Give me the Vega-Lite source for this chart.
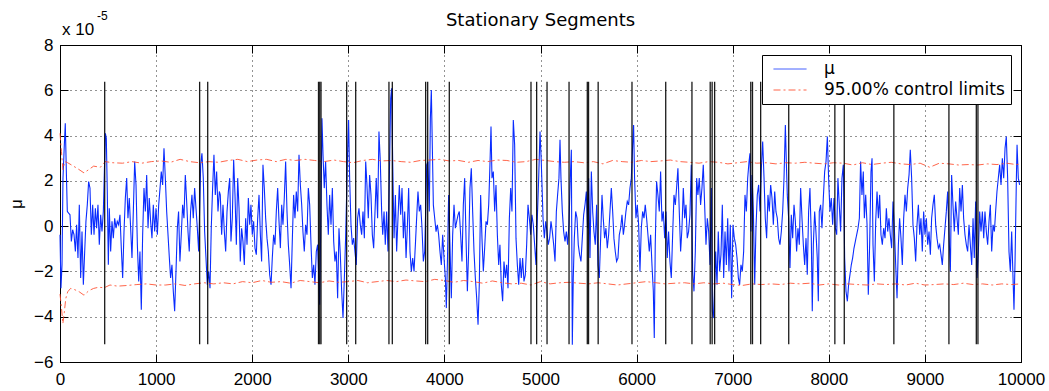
{
"$schema": "https://vega.github.io/schema/vega-lite/v6.json",
"autosize": {"type": "none"},
"width": 961,
"height": 317,
"padding": {"left": 60, "top": 45, "right": 28, "bottom": 29},
"background": "white",
"title": {"text": "Stationary Segments", "fontSize": 18, "fontWeight": "normal", "font": "DejaVu Sans", "offset": -20, "color": "black"},
"config": {
  "font": "Liberation Sans",
  "view": {"stroke": "black", "strokeWidth": 1},
  "axis": {"domainColor": "black", "tickColor": "black", "labelColor": "black", "labelFontSize": 17, "labelFont": "Liberation Sans", "gridColor": "black", "gridDash": [1, 4], "gridOpacity": 0.85, "tickSize": -8, "tickWidth": 1, "titleFontWeight": "normal", "titleColor": "black"},
  "legend": {"orient": "top-right", "offset": 10, "padding": 6, "symbolOffset": 5, "clipHeight": 16, "fillColor": "white", "strokeColor": "black", "labelFontSize": 17, "labelFont": "DejaVu Sans", "labelColor": "black", "labelLimit": 400, "symbolType": "stroke", "symbolSize": 1089, "symbolStrokeWidth": 1, "rowPadding": 4, "labelOffset": 17}
},
"datasets": {
"mu": [
{"x":0,"y":-0.38},{"x":10,"y":-2.74},{"x":21,"y":-1.7},{"x":31,"y":2.12},{"x":45,"y":3.59},{"x":55,"y":4.54},{"x":66,"y":2.41},{"x":76,"y":0.65},{"x":90,"y":0.57},{"x":104,"y":0.5},{"x":118,"y":-0.68},{"x":132,"y":-0.16},{"x":146,"y":-0.38},{"x":160,"y":-1.12},{"x":173,"y":0.06},{"x":187,"y":-1.41},{"x":201,"y":0.94},{"x":215,"y":-2.29},{"x":229,"y":-0.24},{"x":243,"y":-2.59},{"x":257,"y":-1.12},{"x":270,"y":0.21},{"x":284,"y":0.94},{"x":298,"y":1.97},{"x":312,"y":1.68},{"x":326,"y":-0.38},{"x":340,"y":0.94},{"x":354,"y":-0.38},{"x":368,"y":0.79},{"x":381,"y":-0.09},{"x":395,"y":0.94},{"x":409,"y":-0.82},{"x":423,"y":0.5},{"x":437,"y":-0.24},{"x":451,"y":0.65},{"x":472,"y":4.1},{"x":482,"y":3.88},{"x":492,"y":1.53},{"x":503,"y":-1.71},{"x":513,"y":0.79},{"x":527,"y":-1.12},{"x":541,"y":0.21},{"x":555,"y":-0.53},{"x":569,"y":0.35},{"x":583,"y":-0.09},{"x":596,"y":0.21},{"x":610,"y":0.06},{"x":624,"y":0.5},{"x":638,"y":-0.97},{"x":652,"y":-2.29},{"x":666,"y":-0.24},{"x":680,"y":1.24},{"x":694,"y":2.12},{"x":707,"y":0.35},{"x":721,"y":1.24},{"x":735,"y":-0.09},{"x":749,"y":-1.41},{"x":763,"y":0.65},{"x":777,"y":2.85},{"x":791,"y":1.82},{"x":805,"y":-0.82},{"x":819,"y":-2.44},{"x":832,"y":-1.12},{"x":846,"y":-3.69},{"x":860,"y":-0.38},{"x":874,"y":1.68},{"x":888,"y":0.65},{"x":902,"y":2.26},{"x":916,"y":-0.09},{"x":929,"y":1.24},{"x":943,"y":0.21},{"x":957,"y":-0.53},{"x":971,"y":0.94},{"x":985,"y":-0.24},{"x":999,"y":0.79},{"x":1013,"y":-0.38},{"x":1027,"y":0.94},{"x":1041,"y":1.68},{"x":1054,"y":2.41},{"x":1068,"y":1.82},{"x":1082,"y":3.44},{"x":1096,"y":2.12},{"x":1110,"y":0.65},{"x":1124,"y":-0.38},{"x":1138,"y":-1.41},{"x":1151,"y":-2.29},{"x":1165,"y":-1.71},{"x":1179,"y":-2.88},{"x":1193,"y":-3.76},{"x":1207,"y":-2.0},{"x":1221,"y":-0.09},{"x":1234,"y":0.65},{"x":1248,"y":-1.56},{"x":1262,"y":-0.38},{"x":1276,"y":0.94},{"x":1290,"y":0.35},{"x":1304,"y":2.26},{"x":1318,"y":1.09},{"x":1332,"y":-0.24},{"x":1345,"y":-1.12},{"x":1359,"y":0.65},{"x":1373,"y":1.38},{"x":1387,"y":0.35},{"x":1401,"y":1.68},{"x":1415,"y":0.79},{"x":1429,"y":-0.09},{"x":1443,"y":-1.12},{"x":1464,"y":2.71},{"x":1477,"y":3.22},{"x":1491,"y":2.12},{"x":1505,"y":-0.24},{"x":1519,"y":-1.41},{"x":1533,"y":-2.59},{"x":1547,"y":-2.0},{"x":1561,"y":-2.74},{"x":1574,"y":-0.09},{"x":1588,"y":1.68},{"x":1602,"y":3.15},{"x":1616,"y":1.38},{"x":1630,"y":2.41},{"x":1644,"y":0.65},{"x":1658,"y":1.53},
{"x":1668,"y":1.38},{"x":1682,"y":-0.38},{"x":1696,"y":0.94},{"x":1710,"y":-0.24},{"x":1724,"y":-1.12},{"x":1738,"y":0.65},{"x":1752,"y":1.53},{"x":1766,"y":2.12},{"x":1779,"y":-0.68},{"x":1793,"y":0.35},{"x":1807,"y":2.93},{"x":1821,"y":1.38},{"x":1835,"y":-0.82},{"x":1849,"y":2.12},{"x":1863,"y":0.79},{"x":1876,"y":-1.56},{"x":1890,"y":-0.09},{"x":1904,"y":-0.68},{"x":1918,"y":-1.71},{"x":1932,"y":0.35},{"x":1946,"y":-0.82},{"x":1960,"y":1.24},{"x":1974,"y":0.06},{"x":1987,"y":0.94},{"x":2001,"y":-0.38},{"x":2015,"y":0.21},{"x":2029,"y":-0.97},{"x":2043,"y":-1.26},{"x":2057,"y":0.35},{"x":2071,"y":1.38},{"x":2085,"y":-0.38},{"x":2098,"y":-1.56},{"x":2112,"y":2.71},{"x":2126,"y":1.68},{"x":2140,"y":0.35},{"x":2154,"y":-0.53},{"x":2168,"y":-1.12},{"x":2182,"y":-2.15},{"x":2196,"y":-2.59},{"x":2209,"y":-1.41},{"x":2223,"y":-0.38},{"x":2237,"y":-0.82},{"x":2251,"y":0.65},{"x":2265,"y":1.68},{"x":2279,"y":0.21},{"x":2293,"y":-0.97},{"x":2307,"y":0.94},{"x":2320,"y":0.06},{"x":2334,"y":1.24},{"x":2348,"y":2.85},{"x":2362,"y":0.65},{"x":2376,"y":-0.82},{"x":2390,"y":-1.71},{"x":2404,"y":-2.74},{"x":2418,"y":-0.53},{"x":2431,"y":1.38},{"x":2445,"y":0.35},{"x":2459,"y":1.53},{"x":2473,"y":0.65},{"x":2487,"y":3.15},{"x":2501,"y":1.82},{"x":2515,"y":0.94},{"x":2528,"y":-0.24},{"x":2542,"y":-1.12},{"x":2556,"y":0.06},{"x":2570,"y":-0.38},{"x":2584,"y":1.68},{"x":2598,"y":0.94},{"x":2612,"y":-0.82},{"x":2626,"y":-2.29},{"x":2640,"y":-1.71},{"x":2653,"y":-2.59},{"x":2667,"y":-1.12},{"x":2681,"y":-0.82},{"x":2702,"y":-3.47},{"x":2716,"y":0.94},{"x":2726,"y":4.76},{"x":2737,"y":3.15},{"x":2750,"y":1.68},{"x":2764,"y":2.85},{"x":2778,"y":0.94},{"x":2792,"y":-0.38},{"x":2806,"y":1.38},{"x":2820,"y":0.06},{"x":2834,"y":1.68},{"x":2848,"y":-0.68},{"x":2861,"y":-1.56},{"x":2875,"y":-1.12},{"x":2889,"y":-3.18},{"x":2903,"y":-0.09},{"x":2917,"y":-1.26},{"x":2931,"y":-2.88},{"x":2945,"y":-4.06},{"x":2959,"y":-2.29},{"x":2972,"y":-0.53},{"x":2993,"y":3.29},{"x":3003,"y":4.69},{"x":3014,"y":2.12},{"x":3028,"y":0.06},{"x":3042,"y":-0.82},{"x":3056,"y":-0.53},{"x":3069,"y":-1.12},{"x":3083,"y":-1.71},{"x":3097,"y":0.35},{"x":3111,"y":0.79},{"x":3125,"y":0.06},{"x":3139,"y":-0.38},{"x":3153,"y":0.65},{"x":3167,"y":-0.53},{"x":3181,"y":2.85},{"x":3194,"y":1.82},{"x":3208,"y":0.35},{"x":3222,"y":2.26},{"x":3236,"y":1.38},{"x":3250,"y":-0.38},{"x":3264,"y":-0.97},{"x":3278,"y":0.65},{"x":3291,"y":2.12},{"x":3305,"y":0.35},{"x":3319,"y":4.18},{"x":3333,"y":2.85},{"x":3347,"y":0.65},
{"x":3358,"y":-0.38},{"x":3372,"y":0.65},{"x":3385,"y":-0.82},{"x":3399,"y":0.65},{"x":3413,"y":-1.12},{"x":3427,"y":2.12},{"x":3441,"y":5.65},{"x":3451,"y":6.09},{"x":3462,"y":2.85},{"x":3476,"y":-0.53},{"x":3490,"y":1.38},{"x":3503,"y":-1.12},{"x":3517,"y":0.35},{"x":3531,"y":1.82},{"x":3545,"y":0.5},{"x":3559,"y":1.68},{"x":3573,"y":-0.53},{"x":3587,"y":0.65},{"x":3601,"y":-1.41},{"x":3614,"y":-0.09},{"x":3628,"y":1.68},{"x":3642,"y":-1.12},{"x":3656,"y":-2.0},{"x":3670,"y":-1.41},{"x":3684,"y":-2.0},{"x":3698,"y":-0.82},{"x":3711,"y":0.35},{"x":3725,"y":1.53},{"x":3739,"y":0.65},{"x":3753,"y":0.94},{"x":3767,"y":-0.09},{"x":3781,"y":-1.56},{"x":3795,"y":-1.12},{"x":3816,"y":2.71},{"x":3829,"y":2.85},{"x":3843,"y":0.65},{"x":3854,"y":4.76},{"x":3864,"y":6.01},{"x":3874,"y":3.59},{"x":3885,"y":0.94},{"x":3899,"y":0.35},{"x":3913,"y":-0.24},{"x":3927,"y":0.06},{"x":3940,"y":-0.38},{"x":3954,"y":-1.12},{"x":3968,"y":-1.71},{"x":3982,"y":-0.38},{"x":3996,"y":-1.41},{"x":4010,"y":-2.29},{"x":4020,"y":-3.62},{"x":4031,"y":-1.71},{"x":4044,"y":1.38},{"x":4058,"y":-0.82},{"x":4072,"y":-3.18},{"x":4086,"y":-0.38},{"x":4100,"y":0.94},{"x":4114,"y":-0.09},{"x":4128,"y":0.21},{"x":4142,"y":0.5},{"x":4155,"y":0.65},{"x":4169,"y":-0.38},{"x":4183,"y":-1.56},{"x":4197,"y":0.94},{"x":4211,"y":2.12},{"x":4225,"y":-0.53},{"x":4239,"y":-2.88},{"x":4252,"y":-1.12},{"x":4266,"y":1.68},{"x":4280,"y":2.56},{"x":4294,"y":0.65},{"x":4308,"y":-1.12},{"x":4322,"y":-2.29},{"x":4336,"y":-3.18},{"x":4350,"y":-4.35},{"x":4363,"y":-2.59},{"x":4377,"y":1.38},{"x":4391,"y":-0.53},{"x":4405,"y":-2.0},{"x":4419,"y":-0.97},{"x":4433,"y":0.21},{"x":4447,"y":0.06},{"x":4461,"y":0.94},{"x":4474,"y":2.71},{"x":4485,"y":4.4},{"x":4495,"y":2.12},{"x":4509,"y":2.41},{"x":4523,"y":0.65},{"x":4537,"y":1.82},{"x":4551,"y":-0.38},{"x":4565,"y":-1.71},{"x":4578,"y":-0.82},{"x":4592,"y":-2.59},{"x":4606,"y":-3.32},{"x":4620,"y":-1.56},{"x":4634,"y":-2.29},{"x":4648,"y":-1.71},{"x":4662,"y":-2.74},{"x":4676,"y":0.35},{"x":4690,"y":1.68},{"x":4703,"y":0.65},{"x":4717,"y":4.69},{"x":4731,"y":3.59},{"x":4745,"y":-0.53},{"x":4759,"y":-1.71},{"x":4773,"y":-2.59},{"x":4787,"y":-1.41},{"x":4800,"y":-2.29},{"x":4814,"y":-1.41},{"x":4828,"y":-2.44},{"x":4842,"y":-2.15},{"x":4856,"y":-0.82},{"x":4870,"y":0.94},{"x":4884,"y":0.35},{"x":4898,"y":-0.38},{"x":4911,"y":0.5},{"x":4925,"y":0.06},{"x":4939,"y":-0.82},{"x":4953,"y":-1.71},{"x":4967,"y":0.35},{"x":4981,"y":2.12},{"x":4995,"y":4.18},{"x":5008,"y":2.85},{"x":5022,"y":0.94},
{"x":5026,"y":0.35},{"x":5040,"y":-0.53},{"x":5054,"y":0.21},{"x":5067,"y":-0.24},{"x":5081,"y":-0.82},{"x":5095,"y":-0.53},{"x":5109,"y":0.21},{"x":5123,"y":-0.24},{"x":5137,"y":-0.82},{"x":5151,"y":-1.56},{"x":5165,"y":0.65},{"x":5178,"y":1.38},{"x":5192,"y":2.12},{"x":5203,"y":3.81},{"x":5213,"y":2.12},{"x":5227,"y":0.65},{"x":5241,"y":-0.24},{"x":5255,"y":-0.68},{"x":5269,"y":-0.24},{"x":5282,"y":-0.82},{"x":5296,"y":0.06},{"x":5310,"y":2.12},{"x":5321,"y":3.37},{"x":5331,"y":-5.24},{"x":5341,"y":-2.29},{"x":5352,"y":-0.53},{"x":5366,"y":0.65},{"x":5380,"y":0.35},{"x":5393,"y":-0.82},{"x":5407,"y":-1.26},{"x":5421,"y":-1.56},{"x":5435,"y":-0.53},{"x":5449,"y":0.5},{"x":5463,"y":0.94},{"x":5477,"y":1.53},{"x":5490,"y":-0.09},{"x":5501,"y":2.12},{"x":5515,"y":-1.41},{"x":5529,"y":2.41},{"x":5543,"y":0.65},{"x":5556,"y":-0.24},{"x":5570,"y":-0.82},{"x":5584,"y":0.94},{"x":5598,"y":-1.71},{"x":5612,"y":-2.29},{"x":5626,"y":-0.53},{"x":5640,"y":1.38},{"x":5653,"y":0.35},{"x":5667,"y":-0.53},{"x":5681,"y":-0.09},{"x":5695,"y":-0.97},{"x":5709,"y":-0.38},{"x":5723,"y":0.65},{"x":5737,"y":1.68},{"x":5751,"y":0.65},{"x":5764,"y":-0.53},{"x":5778,"y":-1.12},{"x":5792,"y":-1.56},{"x":5806,"y":-1.41},{"x":5820,"y":-0.38},{"x":5834,"y":-0.09},{"x":5848,"y":0.5},{"x":5862,"y":-0.38},{"x":5875,"y":0.06},{"x":5889,"y":0.65},{"x":5903,"y":1.09},{"x":5917,"y":0.94},{"x":5931,"y":1.68},{"x":5945,"y":2.12},{"x":5959,"y":3.59},{"x":5969,"y":4.47},{"x":5979,"y":2.12},{"x":5993,"y":0.35},{"x":6007,"y":0.94},{"x":6021,"y":0.06},{"x":6035,"y":-2.0},{"x":6049,"y":-0.09},{"x":6063,"y":0.65},{"x":6077,"y":0.35},{"x":6090,"y":0.94},{"x":6104,"y":0.35},{"x":6118,"y":-0.38},{"x":6132,"y":-1.12},{"x":6146,"y":-0.38},{"x":6160,"y":-1.71},{"x":6174,"y":-2.88},{"x":6184,"y":-4.94},{"x":6194,"y":-0.82},{"x":6208,"y":1.97},{"x":6222,"y":1.38},{"x":6236,"y":0.65},{"x":6250,"y":2.41},{"x":6264,"y":0.21},{"x":6278,"y":0.65},{"x":6292,"y":-0.53},{"x":6306,"y":0.65},{"x":6319,"y":-1.41},{"x":6333,"y":-0.24},{"x":6347,"y":-1.56},{"x":6361,"y":-2.29},{"x":6375,"y":-0.38},{"x":6389,"y":1.38},{"x":6403,"y":0.94},{"x":6416,"y":1.68},{"x":6430,"y":2.56},{"x":6444,"y":0.65},{"x":6458,"y":-1.12},{"x":6472,"y":-0.09},{"x":6486,"y":1.68},{"x":6500,"y":0.35},{"x":6514,"y":0.94},{"x":6527,"y":-0.53},{"x":6541,"y":-0.24},{"x":6555,"y":0.5},{"x":6569,"y":2.71},{"x":6583,"y":-2.0},{"x":6597,"y":-2.88},{"x":6611,"y":-1.12},{"x":6625,"y":2.12},{"x":6638,"y":1.38},{"x":6652,"y":2.12},{"x":6666,"y":0.94},{"x":6680,"y":1.68},
{"x":6694,"y":2.71},{"x":6708,"y":0.94},{"x":6722,"y":-0.82},{"x":6736,"y":0.35},{"x":6750,"y":-0.24},{"x":6764,"y":-1.71},{"x":6778,"y":1.68},{"x":6788,"y":-3.76},{"x":6798,"y":-4.06},{"x":6809,"y":-3.03},{"x":6823,"y":-1.12},{"x":6837,"y":-2.59},{"x":6850,"y":-0.24},{"x":6864,"y":-2.0},{"x":6878,"y":-1.26},{"x":6892,"y":0.94},{"x":6906,"y":-2.29},{"x":6920,"y":-0.24},{"x":6934,"y":-1.71},{"x":6948,"y":0.35},{"x":6961,"y":-2.0},{"x":6975,"y":0.06},{"x":6989,"y":-3.18},{"x":7003,"y":0.06},{"x":7017,"y":-0.53},{"x":7031,"y":-0.82},{"x":7045,"y":-1.41},{"x":7059,"y":-2.29},{"x":7072,"y":-2.59},{"x":7086,"y":-1.71},{"x":7100,"y":-2.0},{"x":7114,"y":-1.12},{"x":7128,"y":1.38},{"x":7142,"y":0.65},{"x":7156,"y":2.12},{"x":7170,"y":2.85},{"x":7180,"y":3.22},{"x":7190,"y":-0.24},{"x":7201,"y":2.26},{"x":7215,"y":0.65},{"x":7229,"y":-2.59},{"x":7242,"y":-0.09},{"x":7256,"y":1.38},{"x":7270,"y":1.82},{"x":7284,"y":0.65},{"x":7298,"y":2.56},{"x":7312,"y":3.74},{"x":7326,"y":2.12},{"x":7339,"y":0.35},{"x":7353,"y":-0.53},{"x":7367,"y":1.38},{"x":7381,"y":0.65},{"x":7395,"y":1.82},{"x":7409,"y":1.24},{"x":7423,"y":0.06},{"x":7437,"y":1.53},{"x":7450,"y":0.65},{"x":7464,"y":0.35},{"x":7478,"y":-0.53},{"x":7492,"y":-0.82},{"x":7506,"y":-0.24},{"x":7520,"y":0.65},{"x":7534,"y":2.12},{"x":7548,"y":4.47},{"x":7558,"y":2.85},{"x":7568,"y":1.38},{"x":7582,"y":0.35},{"x":7596,"y":-1.85},{"x":7610,"y":0.5},{"x":7624,"y":-0.53},{"x":7638,"y":0.94},{"x":7652,"y":0.21},{"x":7665,"y":-1.12},{"x":7679,"y":-0.09},{"x":7693,"y":-0.82},{"x":7707,"y":1.68},{"x":7721,"y":0.35},{"x":7735,"y":-0.82},{"x":7749,"y":-1.71},{"x":7763,"y":-0.53},{"x":7776,"y":-2.15},{"x":7790,"y":0.65},{"x":7804,"y":1.68},{"x":7818,"y":-0.53},{"x":7828,"y":-3.76},{"x":7839,"y":-0.82},{"x":7853,"y":0.65},{"x":7866,"y":-0.24},{"x":7880,"y":-1.41},{"x":7891,"y":-3.32},{"x":7901,"y":0.65},{"x":7915,"y":0.94},{"x":7929,"y":-0.09},{"x":7943,"y":1.24},{"x":7957,"y":2.41},{"x":7971,"y":2.85},{"x":7985,"y":3.96},{"x":7998,"y":2.12},{"x":8012,"y":0.65},{"x":8026,"y":1.24},{"x":8040,"y":0.06},{"x":8054,"y":1.24},{"x":8068,"y":-0.09},{"x":8082,"y":-0.38},{"x":8095,"y":2.12},{"x":8109,"y":0.94},{"x":8123,"y":-0.24},{"x":8137,"y":2.12},{"x":8151,"y":2.71},{"x":8165,"y":-1.41},{"x":8179,"y":-2.88},{"x":8193,"y":-3.32},{"x":8206,"y":-2.59},{"x":8220,"y":-2.15},{"x":8234,"y":-1.71},{"x":8248,"y":-1.41},{"x":8262,"y":-0.97},{"x":8276,"y":-0.68},{"x":8290,"y":-0.38},{"x":8304,"y":-0.09},{"x":8318,"y":0.35},{"x":8331,"y":2.85},{"x":8345,"y":1.38},{"x":8359,"y":2.41},
{"x":8370,"y":0.35},{"x":8384,"y":1.38},{"x":8398,"y":0.06},{"x":8411,"y":-3.03},{"x":8425,"y":-0.82},{"x":8439,"y":2.41},{"x":8450,"y":3.0},{"x":8460,"y":-0.82},{"x":8474,"y":-2.44},{"x":8488,"y":0.21},{"x":8502,"y":1.53},{"x":8516,"y":0.35},{"x":8529,"y":1.38},{"x":8543,"y":-0.38},{"x":8557,"y":-0.82},{"x":8571,"y":-0.09},{"x":8585,"y":-0.53},{"x":8599,"y":0.79},{"x":8613,"y":-0.24},{"x":8626,"y":0.35},{"x":8640,"y":-0.38},{"x":8654,"y":-0.97},{"x":8668,"y":1.09},{"x":8682,"y":-0.09},{"x":8696,"y":-1.71},{"x":8710,"y":-3.18},{"x":8724,"y":-0.82},{"x":8737,"y":0.35},{"x":8751,"y":-0.53},{"x":8765,"y":-1.71},{"x":8779,"y":0.35},{"x":8793,"y":1.38},{"x":8807,"y":0.65},{"x":8821,"y":1.68},{"x":8835,"y":2.26},{"x":8848,"y":3.37},{"x":8862,"y":2.12},{"x":8876,"y":0.06},{"x":8890,"y":-0.53},{"x":8904,"y":-1.56},{"x":8918,"y":0.06},{"x":8932,"y":0.94},{"x":8946,"y":-0.38},{"x":8959,"y":0.35},{"x":8973,"y":-1.12},{"x":8987,"y":0.65},{"x":9001,"y":-0.38},{"x":9015,"y":0.35},{"x":9029,"y":-0.82},{"x":9043,"y":-0.24},{"x":9057,"y":-1.26},{"x":9070,"y":0.35},{"x":9084,"y":0.94},{"x":9098,"y":1.38},{"x":9112,"y":0.06},{"x":9126,"y":-0.53},{"x":9140,"y":-0.97},{"x":9154,"y":-0.82},{"x":9168,"y":-1.26},{"x":9181,"y":-1.71},{"x":9195,"y":-0.82},{"x":9209,"y":-0.09},{"x":9223,"y":0.65},{"x":9237,"y":1.53},{"x":9251,"y":-0.38},{"x":9265,"y":-2.0},{"x":9278,"y":2.26},{"x":9292,"y":0.94},{"x":9306,"y":-0.24},{"x":9320,"y":1.09},{"x":9334,"y":0.35},{"x":9348,"y":-0.38},{"x":9362,"y":1.68},{"x":9376,"y":0.65},{"x":9390,"y":1.82},{"x":9403,"y":0.35},{"x":9417,"y":-0.38},{"x":9431,"y":-0.82},{"x":9445,"y":-1.12},{"x":9459,"y":0.06},{"x":9473,"y":-0.82},{"x":9487,"y":-1.71},{"x":9501,"y":0.35},{"x":9514,"y":-1.41},{"x":9528,"y":1.09},{"x":9542,"y":-2.29},{"x":9556,"y":-1.12},{"x":9570,"y":0.65},{"x":9584,"y":-0.24},{"x":9598,"y":0.65},{"x":9612,"y":-0.53},{"x":9625,"y":0.65},{"x":9639,"y":-0.24},{"x":9653,"y":-0.82},{"x":9667,"y":0.21},{"x":9681,"y":0.94},{"x":9695,"y":-1.12},{"x":9709,"y":0.06},{"x":9723,"y":-0.24},{"x":9736,"y":0.65},{"x":9750,"y":1.53},{"x":9764,"y":2.12},{"x":9778,"y":2.71},{"x":9792,"y":1.82},{"x":9806,"y":3.0},{"x":9820,"y":2.12},{"x":9834,"y":3.44},{"x":9847,"y":3.96},{"x":9861,"y":2.12},{"x":9875,"y":-1.12},{"x":9889,"y":-2.0},{"x":9903,"y":-0.24},{"x":9917,"y":-2.29},{"x":9927,"y":-3.69},{"x":9938,"y":-1.56},{"x":9952,"y":2.12},{"x":9959,"y":3.59},{"x":9972,"y":2.12},{"x":9986,"y":1.82}
],
"limits": [
{"x":0,"y":4.1,"band":"upper"},{"x":15,"y":3.3,"band":"upper"},{"x":30,"y":2.5,"band":"upper"},{"x":50,"y":2.85,"band":"upper"},{"x":80,"y":2.8,"band":"upper"},{"x":120,"y":2.7,"band":"upper"},{"x":180,"y":2.55,"band":"upper"},{"x":250,"y":2.35,"band":"upper"},{"x":300,"y":2.5,"band":"upper"},{"x":350,"y":2.65,"band":"upper"},{"x":420,"y":2.6,"band":"upper"},{"x":470,"y":2.85,"band":"upper"},{"x":550,"y":2.8,"band":"upper"},{"x":650,"y":2.78,"band":"upper"},{"x":750,"y":2.85,"band":"upper"},{"x":850,"y":2.78,"band":"upper"},{"x":950,"y":2.85,"band":"upper"},{"x":1050,"y":2.88,"band":"upper"},{"x":1150,"y":2.82,"band":"upper"},{"x":1250,"y":2.95,"band":"upper"},{"x":1350,"y":2.85,"band":"upper"},{"x":1450,"y":2.8,"band":"upper"},{"x":1550,"y":2.85,"band":"upper"},{"x":1650,"y":2.82,"band":"upper"},{"x":1750,"y":2.9,"band":"upper"},{"x":1850,"y":2.95,"band":"upper"},{"x":1950,"y":2.85,"band":"upper"},{"x":2050,"y":2.92,"band":"upper"},{"x":2150,"y":2.95,"band":"upper"},{"x":2250,"y":2.85,"band":"upper"},{"x":2350,"y":2.95,"band":"upper"},{"x":2450,"y":2.9,"band":"upper"},{"x":2550,"y":2.95,"band":"upper"},{"x":2650,"y":2.9,"band":"upper"},{"x":2750,"y":2.85,"band":"upper"},{"x":2850,"y":2.92,"band":"upper"},{"x":2950,"y":2.85,"band":"upper"},{"x":3050,"y":2.8,"band":"upper"},{"x":3150,"y":2.9,"band":"upper"},{"x":3250,"y":2.95,"band":"upper"},{"x":3350,"y":2.88,"band":"upper"},{"x":3450,"y":2.9,"band":"upper"},{"x":3550,"y":2.85,"band":"upper"},{"x":3650,"y":2.82,"band":"upper"},{"x":3750,"y":2.9,"band":"upper"},{"x":3850,"y":2.92,"band":"upper"},{"x":3950,"y":2.95,"band":"upper"},{"x":4050,"y":2.88,"band":"upper"},{"x":4150,"y":2.9,"band":"upper"},{"x":4250,"y":2.82,"band":"upper"},{"x":4350,"y":2.9,"band":"upper"},{"x":4450,"y":2.85,"band":"upper"},{"x":4550,"y":2.92,"band":"upper"},{"x":4650,"y":2.9,"band":"upper"},{"x":4750,"y":2.82,"band":"upper"},{"x":4850,"y":2.85,"band":"upper"},{"x":4950,"y":2.95,"band":"upper"},{"x":5050,"y":2.9,"band":"upper"},{"x":5150,"y":2.85,"band":"upper"},{"x":5250,"y":2.82,"band":"upper"},{"x":5350,"y":2.85,"band":"upper"},{"x":5450,"y":2.8,"band":"upper"},{"x":5550,"y":2.85,"band":"upper"},{"x":5650,"y":2.75,"band":"upper"},{"x":5750,"y":2.9,"band":"upper"},{"x":5850,"y":2.85,"band":"upper"},{"x":5950,"y":2.82,"band":"upper"},{"x":6050,"y":2.9,"band":"upper"},{"x":6150,"y":2.85,"band":"upper"},{"x":6250,"y":2.88,"band":"upper"},{"x":6350,"y":2.92,"band":"upper"},{"x":6450,"y":2.85,"band":"upper"},{"x":6550,"y":2.82,"band":"upper"},{"x":6650,"y":2.78,"band":"upper"},{"x":6750,"y":2.85,"band":"upper"},{"x":6850,"y":2.82,"band":"upper"},{"x":6950,"y":2.75,"band":"upper"},{"x":7050,"y":2.8,"band":"upper"},{"x":7150,"y":2.85,"band":"upper"},{"x":7250,"y":2.78,"band":"upper"},{"x":7350,"y":2.8,"band":"upper"},{"x":7450,"y":2.75,"band":"upper"},{"x":7550,"y":2.8,"band":"upper"},{"x":7650,"y":2.78,"band":"upper"},{"x":7750,"y":2.82,"band":"upper"},{"x":7850,"y":2.78,"band":"upper"},{"x":7950,"y":2.75,"band":"upper"},{"x":8050,"y":2.8,"band":"upper"},{"x":8150,"y":2.78,"band":"upper"},{"x":8250,"y":2.7,"band":"upper"},{"x":8350,"y":2.8,"band":"upper"},{"x":8450,"y":2.72,"band":"upper"},{"x":8550,"y":2.78,"band":"upper"},{"x":8650,"y":2.82,"band":"upper"},{"x":8750,"y":2.75,"band":"upper"},{"x":8850,"y":2.72,"band":"upper"},{"x":8950,"y":2.78,"band":"upper"},{"x":9050,"y":2.6,"band":"upper"},{"x":9150,"y":2.78,"band":"upper"},{"x":9250,"y":2.75,"band":"upper"},{"x":9350,"y":2.7,"band":"upper"},{"x":9450,"y":2.72,"band":"upper"},{"x":9550,"y":2.7,"band":"upper"},{"x":9650,"y":2.75,"band":"upper"},{"x":9750,"y":2.72,"band":"upper"},{"x":9850,"y":2.78,"band":"upper"},{"x":9950,"y":2.72,"band":"upper"},{"x":10000,"y":2.75,"band":"upper"},
{"x":0,"y":-3.0,"band":"lower"},{"x":15,"y":-3.6,"band":"lower"},{"x":30,"y":-4.3,"band":"lower"},{"x":45,"y":-3.8,"band":"lower"},{"x":60,"y":-3.2,"band":"lower"},{"x":80,"y":-2.9,"band":"lower"},{"x":110,"y":-2.75,"band":"lower"},{"x":150,"y":-2.8,"band":"lower"},{"x":200,"y":-2.9,"band":"lower"},{"x":250,"y":-3.05,"band":"lower"},{"x":300,"y":-2.85,"band":"lower"},{"x":350,"y":-2.75,"band":"lower"},{"x":400,"y":-2.7,"band":"lower"},{"x":460,"y":-2.72,"band":"lower"},{"x":520,"y":-2.6,"band":"lower"},{"x":600,"y":-2.65,"band":"lower"},{"x":700,"y":-2.62,"band":"lower"},{"x":800,"y":-2.58,"band":"lower"},{"x":900,"y":-2.55,"band":"lower"},{"x":1000,"y":-2.6,"band":"lower"},{"x":1100,"y":-2.6,"band":"lower"},{"x":1200,"y":-2.55,"band":"lower"},{"x":1300,"y":-2.62,"band":"lower"},{"x":1400,"y":-2.55,"band":"lower"},{"x":1500,"y":-2.5,"band":"lower"},{"x":1600,"y":-2.55,"band":"lower"},{"x":1700,"y":-2.5,"band":"lower"},{"x":1800,"y":-2.55,"band":"lower"},{"x":1900,"y":-2.45,"band":"lower"},{"x":2000,"y":-2.5,"band":"lower"},{"x":2100,"y":-2.4,"band":"lower"},{"x":2200,"y":-2.48,"band":"lower"},{"x":2300,"y":-2.45,"band":"lower"},{"x":2400,"y":-2.52,"band":"lower"},{"x":2500,"y":-2.4,"band":"lower"},{"x":2600,"y":-2.45,"band":"lower"},{"x":2700,"y":-2.5,"band":"lower"},{"x":2800,"y":-2.42,"band":"lower"},{"x":2900,"y":-2.48,"band":"lower"},{"x":3000,"y":-2.45,"band":"lower"},{"x":3100,"y":-2.4,"band":"lower"},{"x":3200,"y":-2.5,"band":"lower"},{"x":3300,"y":-2.45,"band":"lower"},{"x":3400,"y":-2.4,"band":"lower"},{"x":3500,"y":-2.45,"band":"lower"},{"x":3600,"y":-2.38,"band":"lower"},{"x":3700,"y":-2.42,"band":"lower"},{"x":3800,"y":-2.45,"band":"lower"},{"x":3900,"y":-2.35,"band":"lower"},{"x":4000,"y":-2.4,"band":"lower"},{"x":4100,"y":-2.48,"band":"lower"},{"x":4200,"y":-2.4,"band":"lower"},{"x":4300,"y":-2.45,"band":"lower"},{"x":4400,"y":-2.52,"band":"lower"},{"x":4500,"y":-2.42,"band":"lower"},{"x":4600,"y":-2.5,"band":"lower"},{"x":4700,"y":-2.55,"band":"lower"},{"x":4800,"y":-2.52,"band":"lower"},{"x":4900,"y":-2.6,"band":"lower"},{"x":5000,"y":-2.45,"band":"lower"},{"x":5100,"y":-2.55,"band":"lower"},{"x":5200,"y":-2.5,"band":"lower"},{"x":5300,"y":-2.48,"band":"lower"},{"x":5400,"y":-2.52,"band":"lower"},{"x":5500,"y":-2.55,"band":"lower"},{"x":5600,"y":-2.5,"band":"lower"},{"x":5700,"y":-2.55,"band":"lower"},{"x":5800,"y":-2.6,"band":"lower"},{"x":5900,"y":-2.55,"band":"lower"},{"x":6000,"y":-2.5,"band":"lower"},{"x":6100,"y":-2.45,"band":"lower"},{"x":6200,"y":-2.5,"band":"lower"},{"x":6300,"y":-2.55,"band":"lower"},{"x":6400,"y":-2.52,"band":"lower"},{"x":6500,"y":-2.5,"band":"lower"},{"x":6600,"y":-2.55,"band":"lower"},{"x":6700,"y":-2.5,"band":"lower"},{"x":6800,"y":-2.55,"band":"lower"},{"x":6900,"y":-2.52,"band":"lower"},{"x":7000,"y":-2.58,"band":"lower"},{"x":7100,"y":-2.62,"band":"lower"},{"x":7200,"y":-2.55,"band":"lower"},{"x":7300,"y":-2.58,"band":"lower"},{"x":7400,"y":-2.55,"band":"lower"},{"x":7500,"y":-2.58,"band":"lower"},{"x":7600,"y":-2.52,"band":"lower"},{"x":7700,"y":-2.55,"band":"lower"},{"x":7800,"y":-2.52,"band":"lower"},{"x":7900,"y":-2.6,"band":"lower"},{"x":8000,"y":-2.55,"band":"lower"},{"x":8100,"y":-2.6,"band":"lower"},{"x":8200,"y":-2.55,"band":"lower"},{"x":8300,"y":-2.58,"band":"lower"},{"x":8400,"y":-2.6,"band":"lower"},{"x":8500,"y":-2.55,"band":"lower"},{"x":8600,"y":-2.58,"band":"lower"},{"x":8700,"y":-2.55,"band":"lower"},{"x":8800,"y":-2.6,"band":"lower"},{"x":8900,"y":-2.52,"band":"lower"},{"x":9000,"y":-2.6,"band":"lower"},{"x":9100,"y":-2.58,"band":"lower"},{"x":9200,"y":-2.55,"band":"lower"},{"x":9300,"y":-2.58,"band":"lower"},{"x":9400,"y":-2.52,"band":"lower"},{"x":9500,"y":-2.58,"band":"lower"},{"x":9600,"y":-2.55,"band":"lower"},{"x":9700,"y":-2.6,"band":"lower"},{"x":9800,"y":-2.55,"band":"lower"},{"x":9900,"y":-2.58,"band":"lower"},{"x":10000,"y":-2.55,"band":"lower"}
],
"cp": [
{"x":465},{"x":1453},{"x":1537},{"x":2690},{"x":2703},{"x":2716},{"x":2983},{"x":3077},{"x":3423},{"x":3458},{"x":3805},{"x":3826},{"x":4051},{"x":4901},{"x":4960},{"x":5068},{"x":5297},{"x":5487},{"x":5500},{"x":5600},{"x":5952},{"x":6303},{"x":6576},{"x":6766},{"x":6786},{"x":6812},{"x":7188},{"x":7206},{"x":7291},{"x":7583},{"x":8063},{"x":8161},{"x":8677},{"x":9250},{"x":9535},{"x":9552}
]
},
"layer": [
{
  "data": {"name": "mu"},
  "mark": {"type": "line", "strokeWidth": 1.1, "interpolate": "linear"},
  "encoding": {
    "x": {"field": "x", "type": "quantitative", "scale": {"domain": [0, 10000], "nice": false, "zero": false},
      "axis": {"values": [0,1000,2000,3000,4000,5000,6000,7000,8000,9000,10000], "title": null, "grid": true, "labelPadding": 17, "labelFlush": false, "labelOverlap": false, "format": "d"}},
    "y": {"field": "y", "type": "quantitative", "scale": {"domain": [-6, 8], "nice": false, "zero": false},
      "axis": {"values": [-6,-4,-2,0,2,4,6,8], "title": "μ", "titleFontSize": 17, "titlePadding": 8, "grid": true, "labelPadding": 15, "labelFlush": false, "format": "d"}},
    "color": {"datum": "μ", "scale": {"domain": ["μ", "95.00% control limits"], "range": ["#0a2cff", "#ff4a2a"]}, "legend": {"title": null}},
    "strokeDash": {"datum": "μ", "scale": {"domain": ["μ", "95.00% control limits"], "range": [[1, 0], [7, 3, 2, 3]]}, "legend": {"title": null}}
  }
},
{
  "data": {"name": "limits"},
  "mark": {"type": "line", "strokeWidth": 1, "opacity": 0.85},
  "encoding": {
    "x": {"field": "x", "type": "quantitative", "axis": null},
    "y": {"field": "y", "type": "quantitative", "axis": {"orient": "right", "values": [-6,-4,-2,0,2,4,6,8], "labels": false, "grid": false, "title": null, "domain": false}},
    "detail": {"field": "band"},
    "color": {"datum": "95.00% control limits", "legend": {"title": null}},
    "strokeDash": {"datum": "95.00% control limits", "legend": {"title": null}}
  }
},
{
  "data": {"name": "cp"},
  "mark": {"type": "rule", "color": "black", "strokeWidth": 1.3, "opacity": 0.9},
  "encoding": {
    "x": {"field": "x", "type": "quantitative", "axis": {"orient": "top", "values": [0,1000,2000,3000,4000,5000,6000,7000,8000,9000,10000], "labels": false, "grid": false, "title": null, "domain": false}},
    "y": {"datum": -5.22, "type": "quantitative", "axis": null},
    "y2": {"datum": 6.38}
  }
},
{
  "data": {"values": [{"t": "x 10"}]},
  "mark": {"type": "text", "align": "left", "baseline": "alphabetic", "dx": 2, "dy": -10, "fontSize": 17, "font": "Liberation Sans", "color": "black"},
  "encoding": {
    "x": {"datum": 0, "type": "quantitative", "axis": null},
    "y": {"datum": 8, "type": "quantitative", "axis": null},
    "text": {"field": "t"}
  }
},
{
  "data": {"values": [{"t": "-5"}]},
  "mark": {"type": "text", "align": "left", "baseline": "alphabetic", "dx": 37, "dy": -25, "fontSize": 12, "font": "Liberation Sans", "color": "black"},
  "encoding": {
    "x": {"datum": 0, "type": "quantitative", "axis": null},
    "y": {"datum": 8, "type": "quantitative", "axis": null},
    "text": {"field": "t"}
  }
}
],
"resolve": {"axis": {"x": "independent", "y": "independent"}}
}
